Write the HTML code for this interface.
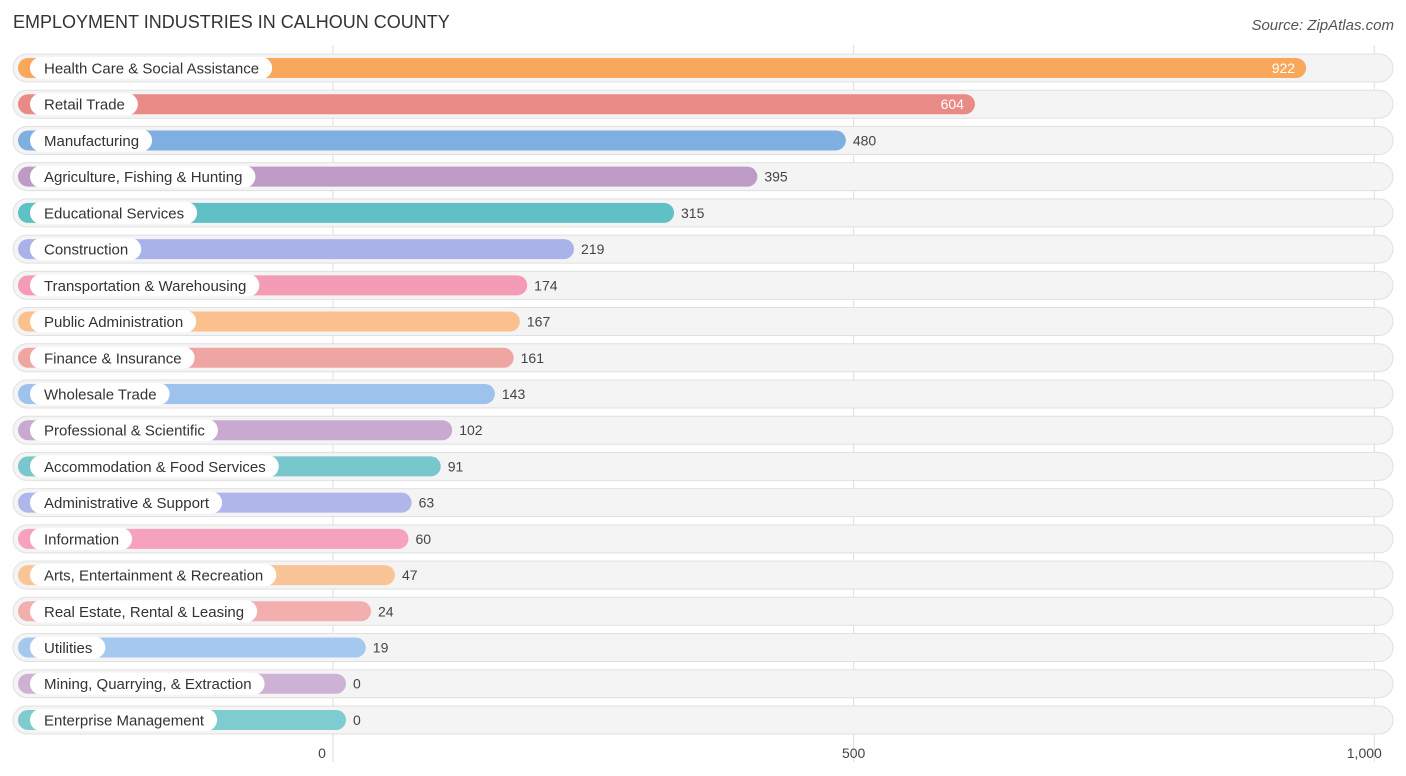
<!DOCTYPE html>
<html><head><meta charset="utf-8">
<style>
body{margin:0;background:#fff;font-family:"Liberation Sans",sans-serif;}
#c{position:absolute;left:0;top:0;}
</style></head>
<body>
<svg id="c" width="1406" height="776" xmlns="http://www.w3.org/2000/svg">
<text x="13" y="28" font-size="18" fill="#333">EMPLOYMENT INDUSTRIES IN CALHOUN COUNTY</text>
<text x="1394" y="30" font-size="15" fill="#555" font-style="italic" text-anchor="end">Source: ZipAtlas.com</text>
<g id="grid"></g>
<g id="rows"></g>
<g id="ticks"></g>
</svg>
<script>
const categories=["Health Care & Social Assistance","Retail Trade","Manufacturing","Agriculture, Fishing & Hunting","Educational Services","Construction","Transportation & Warehousing","Public Administration","Finance & Insurance","Wholesale Trade","Professional & Scientific","Accommodation & Food Services","Administrative & Support","Information","Arts, Entertainment & Recreation","Real Estate, Rental & Leasing","Utilities","Mining, Quarrying, & Extraction","Enterprise Management"];
const values=[922,604,480,395,315,219,174,167,161,143,102,91,63,60,47,24,19,0,0];
const tickValues=[0,500,1000];
const tickLabels=["0","500","1,000"];
const colors=["#F9A85B","#EA8A86","#7FAEE0","#BE9BC6","#5FC0C6","#A9B3E8","#F49BB6","#FBC08D","#EFA6A2","#9DC3EC","#CAA9D1","#77C7CC","#AEB6EA","#F6A2BE","#FAC596","#F2AFAD","#A5C8EE","#CDB2D5","#7ECBD0"];
const NS="http://www.w3.org/2000/svg";
const x=v=>333+v*1.0413;
const y=i=>68+i*36.22;
function mk(tag,attrs,parent){const e=document.createElementNS(NS,tag);for(const k in attrs)e.setAttribute(k,attrs[k]);parent.appendChild(e);return e;}
const grid=document.getElementById('grid'),rows=document.getElementById('rows'),ticks=document.getElementById('ticks');
tickValues.forEach((t,i)=>{
  const l=mk('line',{x1:x(t),x2:x(t),y1:45,y2:762,stroke:'#ddd','stroke-width':1},grid);
  
  
  const tx=mk('text',{x:x(t)-(i==2?10:i==0?11:0),y:758,'font-size':14,fill:'#444','text-anchor':'middle'},ticks);
  tx.textContent=tickLabels[i];
  
  
});
categories.forEach((c,i)=>{
  const cy=y(i);
  const bg=mk('rect',{x:13,y:cy-14,width:1380,height:28,rx:14,fill:'#f4f4f4',stroke:'#e0e0e0','stroke-width':1},rows);
  
  
  const end=x(values[i])+13;
  const b=mk('rect',{x:18,y:cy-10,width:end-18,height:20,rx:10,fill:colors[i]},rows);
  
  
  const lp=mk('rect',{x:30,y:cy-11,width:100,height:22,rx:11,fill:'#fff'},rows);
  
  
  const lt=mk('text',{x:44,y:cy+5.5,'font-size':15,fill:'#333'},rows);
  lt.textContent=c;
  
  
  lp.setAttribute('width',lt.getComputedTextLength()+27);
  const inside=values[i]>550;
  const vt=mk('text',{x:inside?end-11:end+7,y:cy+5,'font-size':14,fill:inside?'#fff':'#444','text-anchor':inside?'end':'start'},rows);
  vt.textContent=values[i];
  
  
});
</script>
</body></html>
